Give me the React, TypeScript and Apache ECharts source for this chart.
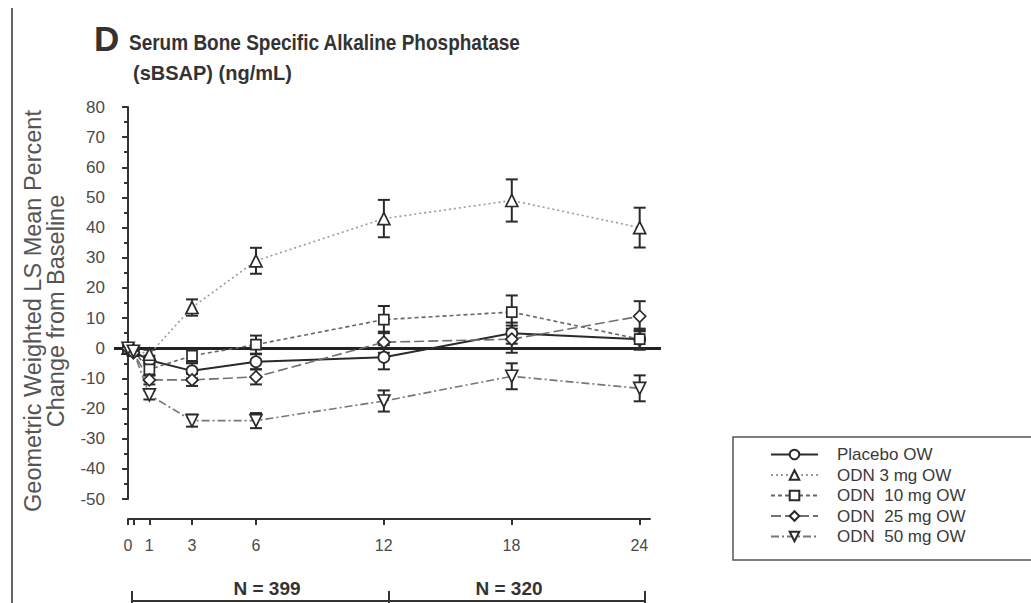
import React, { useEffect, useRef } from "react";
import * as echarts from "echarts";

const months = [0, 0.25, 1, 3, 6, 12, 18, 24];
const seriesNames = ["Placebo OW", "ODN 3 mg OW", "ODN  10 mg OW", "ODN  25 mg OW", "ODN  50 mg OW"];
const placeboMean = [0, -1, -4, -7.5, -4.5, -3, 5, 3];
const placeboErr = [0, 1, 1.5, 2.5, 2.5, 4, 3.5, 3];
const odn3Mean = [0, -0.5, -2, 13.5, 29, 43, 49, 40];
const odn3Err = [0, 1, 1.5, 2.7, 4.3, 6.2, 7, 6.6];
const odn10Mean = [0, -1, -7, -2.5, 1.2, 9.5, 12, 3];
const odn10Err = [0, 1, 2, 2, 3, 4.5, 5.5, 3.5];
const odn25Mean = [0, -1.5, -10.5, -10.5, -9.5, 2, 3, 10.6];
const odn25Err = [0, 1, 1.5, 2, 2.5, 3.5, 4.5, 5];
const odn50Mean = [0, -1, -15.5, -24, -24, -17.5, -9.3, -13.3];
const odn50Err = [0, 1, 1.5, 2, 2.5, 3.5, 4.3, 4.3];
const xTickValues = [0, 0.25, 1, 3, 6, 12, 18, 24];
const xLabelValues = [0, 1, 3, 6, 12, 18, 24];
const nLabels = ["N = 399", "N = 320"];
const titleLetter = "D";
const titleLine1 = "Serum Bone Specific Alkaline Phosphatase";
const titleLine2 = "(sBSAP) (ng/mL)";
const yTitle = ["Geometric Weighted LS Mean Percent", "Change from Baseline"];

const FONT = "'Liberation Sans', Arial, sans-serif";

const means = [placeboMean, odn3Mean, odn10Mean, odn25Mean, odn50Mean];
const errs = [placeboErr, odn3Err, odn10Err, odn25Err, odn50Err];
const symbols = ["circle", "triangle", "rect", "diamond", "triangle"];
const rotates = [0, 0, 0, 0, 180];
const sizes = [11, 12, 10, 12, 12];
const lineColors = ["#2a2a2a", "#9a9a9a", "#666", "#707070", "#777"];
const lineWidths = [2, 1.6, 1.6, 1.6, 1.6];
const dashes: any[] = ["solid", [2, 3], [4, 3], [10, 4], [8, 3, 2, 3]];

export default function App() {
  const ref = useRef<HTMLDivElement>(null);
  useEffect(() => {
    document.body.style.margin = "0";
    const chart = echarts.init(ref.current!, null, { renderer: "svg" });

    const lineSeries = seriesNames.map((name, i) => ({
      name,
      type: "line",
      xAxisIndex: 0,
      yAxisIndex: 0,
      data: months.map((m, j) => [m, means[i][j]]),
      symbol: symbols[i],
      symbolRotate: rotates[i],
      symbolSize: sizes[i],
      lineStyle: { color: lineColors[i], width: lineWidths[i], type: dashes[i] },
      itemStyle: { color: "#fff", borderColor: "#2a2a2a", borderWidth: 1.7 },
      z: 5,
      markLine:
        i === 0
          ? {
              silent: true,
              symbol: "none",
              label: { show: false },
              lineStyle: { color: "#222", width: 2.8, type: "solid" },
              data: [{ yAxis: 0 }],
              z: 1,
            }
          : undefined,
    }));

    const errSeries = seriesNames.map((name, i) => ({
      name: name + " err",
      type: "custom",
      xAxisIndex: 0,
      yAxisIndex: 0,
      z: 3,
      silent: true,
      data: months
        .map((m, j) => [m, means[i][j] - errs[i][j], means[i][j] + errs[i][j], errs[i][j]])
        .filter((d) => d[3] > 0),
      encode: { x: 0, y: [1, 2] },
      renderItem: (params: any, api: any) => {
        const x = api.value(0);
        const lo = api.coord([x, api.value(1)]);
        const hi = api.coord([x, api.value(2)]);
        const cap = 6;
        const st = { stroke: "#2a2a2a", lineWidth: 2 };
        return {
          type: "group",
          children: [
            { type: "line", shape: { x1: lo[0], y1: lo[1], x2: hi[0], y2: hi[1] }, style: st },
            { type: "line", shape: { x1: lo[0] - cap, y1: lo[1], x2: lo[0] + cap, y2: lo[1] }, style: st },
            { type: "line", shape: { x1: hi[0] - cap, y1: hi[1], x2: hi[0] + cap, y2: hi[1] }, style: st },
          ],
        };
      },
    }));

    chart.setOption({
      animation: false,
      backgroundColor: "#fff",
      textStyle: { fontFamily: FONT },
      grid: [
        { left: 114, top: 107, width: 547, height: 392 },
        { left: 128, top: 509, width: 522, height: 10 },
      ],
      xAxis: [
        { gridIndex: 0, type: "value", min: -0.66, max: 25, show: false },
        {
          gridIndex: 1,
          type: "value",
          min: 0,
          max: 24.5,
          axisLine: { show: true, lineStyle: { color: "#333", width: 2 } },
          axisTick: { show: true, length: 6, lineStyle: { color: "#333", width: 2 }, customValues: xTickValues },
          axisLabel: { show: true, customValues: xLabelValues, fontSize: 16, color: "#4a4a4a", margin: 18, fontFamily: FONT },
          splitLine: { show: false },
        },
      ],
      yAxis: [
        {
          gridIndex: 0,
          type: "value",
          min: -50,
          max: 80,
          interval: 10,
          axisLine: { show: true, lineStyle: { color: "#333", width: 2 } },
          axisTick: { show: true, length: 6, lineStyle: { color: "#333", width: 2 } },
          minorTick: { show: true, splitNumber: 2, length: 4, lineStyle: { color: "#333", width: 2 } },
          axisLabel: { fontSize: 17, color: "#4a4a4a", margin: 9, fontFamily: FONT },
          splitLine: { show: false },
        },
        { gridIndex: 1, type: "value", show: false, min: 0, max: 1 },
      ],
      legend: {
        orient: "vertical",
        left: 770,
        top: 446,
        padding: 0,
        itemWidth: 47,
        itemHeight: 12,
        itemGap: 3.5,
        data: seriesNames,
        textStyle: { fontSize: 17, lineHeight: 16, color: "#3a3a3a", fontFamily: FONT, padding: [0, 0, 0, 14] },
        selectedMode: false,
      },
      graphic: [
        { type: "line", shape: { x1: 12, y1: 8, x2: 12, y2: 603 }, style: { stroke: "#666", lineWidth: 2 } },
        { type: "rect", shape: { x: 733, y: 437, width: 320, height: 123 }, style: { fill: "none", stroke: "#555", lineWidth: 1.5 }, z: -1 },
        { type: "text", x: 94, y: 38, style: { text: titleLetter, font: `bold 35px ${FONT}`, fill: "#333", textVerticalAlign: "middle" } },
        { type: "text", x: 129, y: 42, scaleY: 1.15, style: { text: titleLine1, font: `bold 19px ${FONT}`, fill: "#333", textVerticalAlign: "middle" } },
        { type: "text", x: 133, y: 72, scaleY: 1.05, style: { text: titleLine2, font: `bold 20px ${FONT}`, fill: "#333", textVerticalAlign: "middle" } },
        {
          type: "text",
          x: 33,
          y: 311,
          rotation: Math.PI / 2,
          style: { text: yTitle[0], font: `23.5px ${FONT}`, fill: "#555", textAlign: "center", textVerticalAlign: "middle" },
        },
        {
          type: "text",
          x: 56,
          y: 311,
          rotation: Math.PI / 2,
          style: { text: yTitle[1], font: `23.5px ${FONT}`, fill: "#555", textAlign: "center", textVerticalAlign: "middle" },
        },
        { type: "line", shape: { x1: 132, y1: 601, x2: 645, y2: 601 }, style: { stroke: "#333", lineWidth: 2 } },
        { type: "line", shape: { x1: 132, y1: 591, x2: 132, y2: 603 }, style: { stroke: "#333", lineWidth: 2 } },
        { type: "line", shape: { x1: 389, y1: 591, x2: 389, y2: 603 }, style: { stroke: "#333", lineWidth: 2 } },
        { type: "line", shape: { x1: 645, y1: 591, x2: 645, y2: 603 }, style: { stroke: "#333", lineWidth: 2 } },
        { type: "text", x: 267, y: 588, style: { text: nLabels[0], font: `bold 19px ${FONT}`, fill: "#333", textAlign: "center", textVerticalAlign: "middle" } },
        { type: "text", x: 509, y: 588, style: { text: nLabels[1], font: `bold 19px ${FONT}`, fill: "#333", textAlign: "center", textVerticalAlign: "middle" } },
      ],
      series: [...errSeries, ...lineSeries],
    });
    return () => chart.dispose();
  }, []);
  return <div ref={ref} style={{ width: 1031, height: 603 }} />;
}
